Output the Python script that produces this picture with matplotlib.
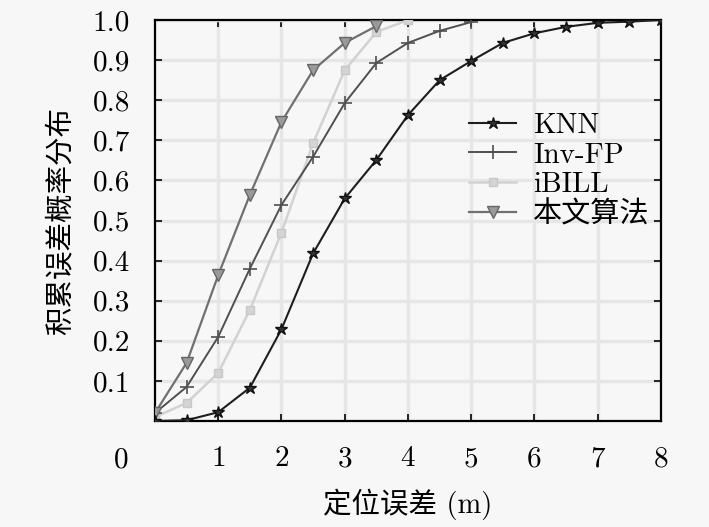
import matplotlib
matplotlib.use("Agg")
import matplotlib.pyplot as plt

plt.rcParams['font.family'] = ['cmr10', 'Noto Sans CJK SC', 'DejaVu Sans']
plt.rcParams['axes.formatter.use_mathtext'] = True

# cumulative error distribution
x_knn = [0, 0.5, 1, 1.5, 2, 2.5, 3, 3.5, 4, 4.5, 5, 5.5, 6, 6.5, 7, 7.5, 8]
y_knn = [0.0, 0.002, 0.022, 0.083, 0.229, 0.418, 0.555, 0.651, 0.763, 0.85,
         0.898, 0.943, 0.967, 0.983, 0.993, 0.996, 1.0]

x_inv = [0, 0.5, 1, 1.5, 2, 2.5, 3, 3.5, 4, 4.5, 5]
y_inv = [0.02, 0.085, 0.21, 0.38, 0.539, 0.659, 0.793, 0.893, 0.943, 0.973, 0.995]

x_ibill = [0, 0.5, 1, 1.5, 2, 2.5, 3, 3.5, 4]
y_ibill = [0.01, 0.045, 0.12, 0.277, 0.47, 0.693, 0.875, 0.97, 1.0]

x_ours = [0, 0.5, 1, 1.5, 2, 2.5, 3, 3.5]
y_ours = [0.02, 0.145, 0.364, 0.564, 0.746, 0.875, 0.943, 0.985]

labels = ["KNN", "Inv-FP", "iBILL", "本文算法"]
x_ticks = [1, 2, 3, 4, 5, 6, 7, 8]
y_ticks = [0.1, 0.2, 0.3, 0.4, 0.5, 0.6, 0.7, 0.8, 0.9, 1.0]

bg = "#f7f7f7"
fig = plt.figure(figsize=(7.09, 5.27), dpi=100, facecolor=bg)
ax = fig.add_axes([0.2186, 0.2011, 0.7137, 0.7609])
ax.set_facecolor(bg)

ax.plot(x_knn, y_knn, color="#1e1e1e", lw=1.5, marker="*", ms=9,
        mfc="#333333", mec="#111111", label=labels[0], zorder=5)
ax.plot(x_inv, y_inv, color="#505050", lw=1.4, marker="+", ms=10,
        mew=1.2, label=labels[1], zorder=4)
ax.plot(x_ibill, y_ibill, color="#d2d2d2", lw=1.8, marker="s", ms=6,
        mfc="#d4d4d4", mec="#c8c8c8", label=labels[2], zorder=3)
ax.plot(x_ours, y_ours, color="#707070", lw=1.6, marker="v", ms=9,
        mfc="#9a9a9a", mec="#666666", label=labels[3], zorder=4)

ax.set_xlim(0, 8)
ax.set_ylim(0, 1.0)
ax.set_xticks(x_ticks)
ax.set_yticks(y_ticks)
ax.set_xticklabels([str(t) for t in x_ticks])
ax.set_yticklabels(["%.1f" % t for t in y_ticks])
ax.grid(True, color="#e6e6e6", lw=2.5, zorder=0)
ax.set_axisbelow(True)
ax.tick_params(direction="in", length=5, width=1.2, top=True, right=True,
               labelsize=21)
ax.tick_params(axis="x", pad=18)
ax.tick_params(axis="y", pad=18)
for s in ax.spines.values():
    s.set_linewidth(1.6)
    s.set_color("black")

ax.annotate("0", xy=(0, 0), xycoords="data", xytext=(-24, -28),
            textcoords="offset points", ha="center", va="center", fontsize=21)

ax.set_xlabel("定位误差 (m)", fontsize=20.5, labelpad=12)
ax.set_ylabel("积累误差概率分布", fontsize=20.5, labelpad=12)

ax.legend(loc="center right", bbox_to_anchor=(1.03, 0.625), frameon=False,
          fontsize=21, handlelength=1.6, labelspacing=0.1, handletextpad=0.6)

fig.savefig("out.png", dpi=100, facecolor=bg)
